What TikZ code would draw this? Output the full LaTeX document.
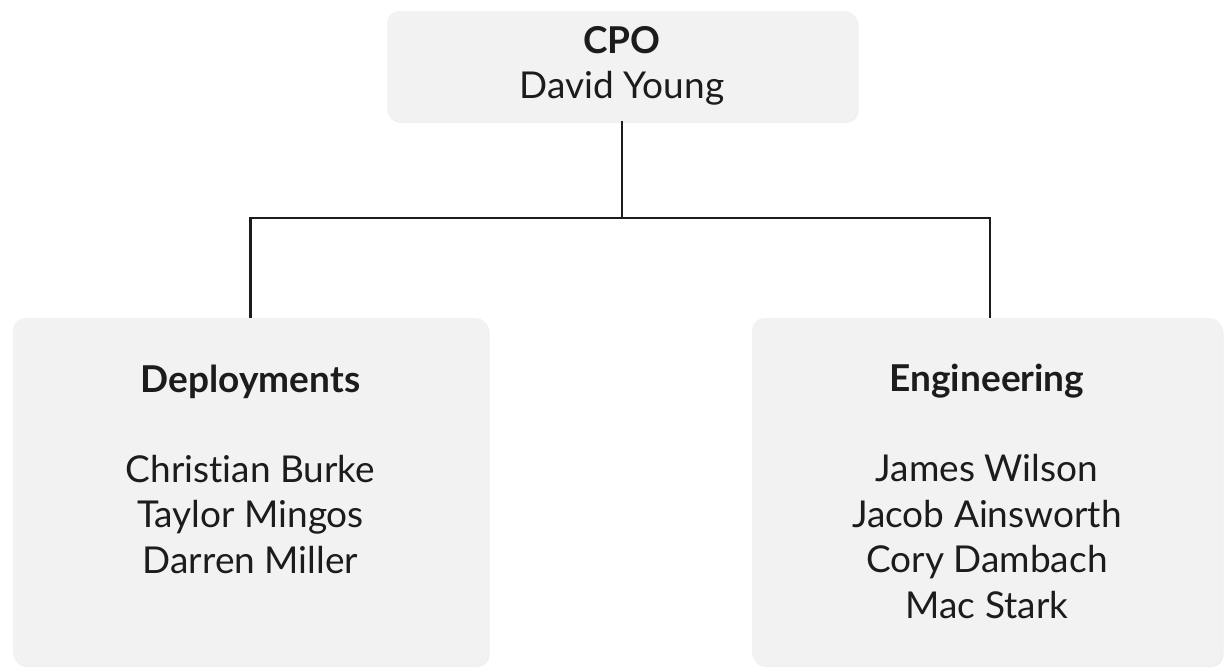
\documentclass[tikz,border=0pt]{standalone}
\usepackage{fontspec}
\setmainfont{Lato}[Ligatures=NoCommon]
\usepackage{tikz}
\usetikzlibrary{positioning, shadows}
\definecolor{boxfill}{HTML}{F2F2F2}
\definecolor{inkgray}{HTML}{1C1C1C}

\begin{document}
\begin{tikzpicture}[x=1pt, y=-1pt, on grid,
  box/.style={fill=boxfill, rounded corners=12pt, inner sep=0pt, text=inkgray,
    drop shadow={shadow xshift=1.5pt, shadow yshift=-2pt, opacity=0.12}},
  unit/.style={box, minimum width=470pt, minimum height=110pt, align=center,
    font=\fontsize{37}{45}\selectfont},
  dept/.style={box, font=\fontsize{37}{45.5}\selectfont},
  link/.style={draw=inkgray, line width=2.6pt}]

\useasboundingbox (0,0) rectangle (1225,667);

% 最上位の箱
\node[unit] (cpo) at (622,66) {\textbf{CPO}\\David Young};

% 部門の箱
\node[dept, below left=425.5pt and 371.5pt of cpo] (dep) {\parbox[c][347pt][t]{475pt}{\centering
  \vspace*{46.5pt}\textbf{Deployments}\\[44.5pt]
  Christian Burke\\Taylor Mingos\\Darren Miller}};
\node[dept, below right=425.5pt and 365pt of cpo] (eng) {\parbox[c][347pt][t]{470pt}{\centering
  \vspace*{46.5pt}\textbf{Engineering}\\[44.5pt]
  James Wilson\\Jacob Ainsworth\\Cory Dambach\\Mac Stark}};

% 接続線
\coordinate (split) at (622,218);
\draw[link] (cpo) -- (split) -| (dep);
\draw[link] (split) -| ([xshift=3pt]eng.north);

\end{tikzpicture}
\end{document}
